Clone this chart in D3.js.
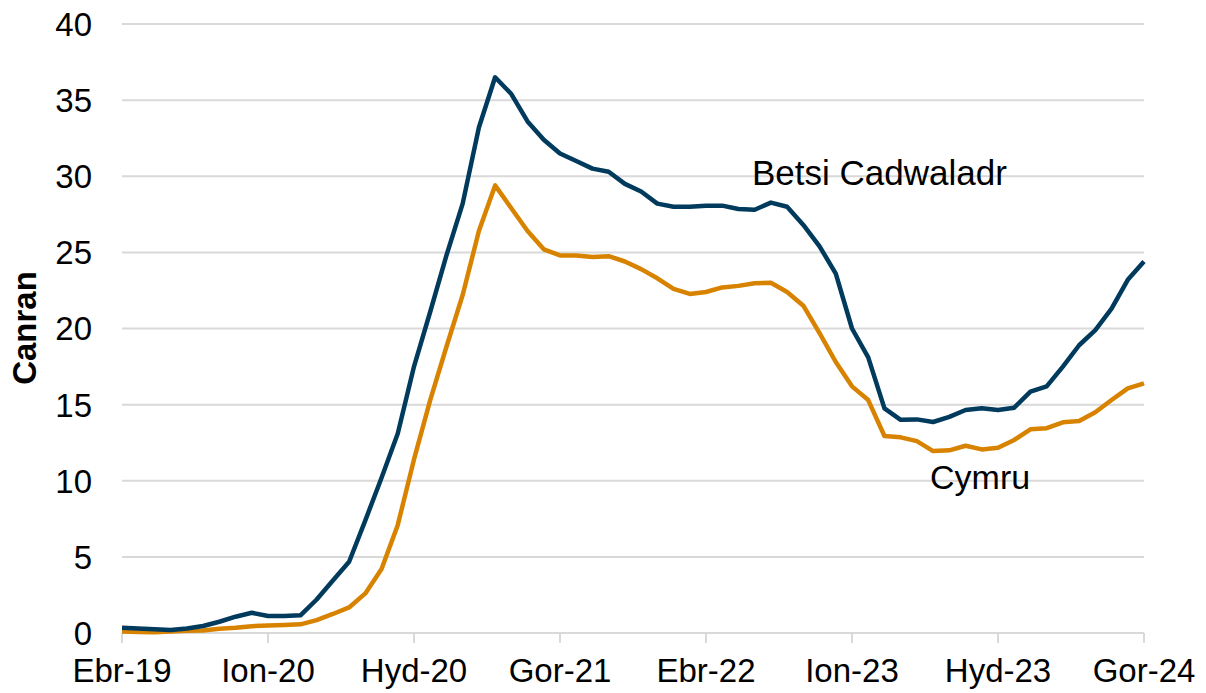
<!DOCTYPE html>
<html>
<head>
<meta charset="utf-8">
<script src="https://cdn.jsdelivr.net/npm/d3@7"></script>
<style>
  body { margin: 0; background: #fff; }
  text { font-family: "Liberation Sans", Arial, sans-serif; fill: #000; }
</style>
</head>
<body>
<svg id="chart" width="1206" height="693"></svg>
<script>
// Welsh month names, series runs Ebr-19 .. Gor-24
const monthNames = ["Ion", "Chw", "Maw", "Ebr", "Mai", "Meh", "Gor", "Aws", "Med", "Hyd", "Tach", "Rhag"];
const months = [];
for (let yr = 2019, m = 3; months.length < 64; m++) {
  if (m === 12) { m = 0; yr++; }
  months.push(monthNames[m] + "-" + String(yr).slice(2));
}

const tickLabels = ["Ebr-19", "Ion-20", "Hyd-20", "Gor-21", "Ebr-22", "Ion-23", "Hyd-23", "Gor-24"];
const yTicks = [0, 5, 10, 15, 20, 25, 30, 35, 40];

const betsi = [
  0.35, 0.3, 0.24, 0.2, 0.3, 0.46, 0.74, 1.07, 1.33, 1.12, 1.12, 1.16,
  2.2, 3.45, 4.68, 7.4, 10.2, 13.1, 17.5, 21.1, 24.8, 28.2, 33.2, 36.5,
  35.4, 33.6, 32.4, 31.5, 31.0, 30.5, 30.3, 29.5, 29.0, 28.2, 28.0, 28.0,
  28.07, 28.07, 27.85, 27.8, 28.27, 28.0, 26.8, 25.4, 23.6, 20.0, 18.1, 14.75,
  14.0, 14.03, 13.86, 14.2, 14.65, 14.76, 14.65, 14.8, 15.85, 16.2, 17.5, 18.9,
  19.9, 21.3, 23.2, 24.4
];
const cymru = [
  0.1, 0.07, 0.05, 0.1, 0.14, 0.17, 0.28, 0.35, 0.45, 0.5, 0.53, 0.57,
  0.85, 1.25, 1.68, 2.6, 4.2, 7.1, 11.4, 15.3, 18.8, 22.2, 26.4, 29.4,
  27.9, 26.4, 25.2, 24.8, 24.8, 24.7, 24.75, 24.4, 23.9, 23.3, 22.6, 22.27,
  22.4, 22.7, 22.8, 22.97, 23.0, 22.4, 21.5, 19.7, 17.8, 16.2, 15.3, 12.94,
  12.85, 12.6, 11.95, 12.0, 12.3, 12.06, 12.17, 12.68, 13.38, 13.45, 13.84, 13.92,
  14.5, 15.3, 16.07, 16.4
];

const svg = d3.select("#chart");
const plotLeft = 122, plotRight = 1144, plotTop = 24, plotBottom = 633;
const grid = "#d9d9d9";

const x = d3.scalePoint().domain(months).range([plotLeft, plotRight]);
const y = d3.scaleLinear().domain([0, 40]).range([plotBottom, plotTop]);

// gridlines
svg.append("g")
  .selectAll("line")
  .data(yTicks)
  .join("line")
  .attr("x1", plotLeft).attr("x2", plotRight)
  .attr("y1", d => y(d)).attr("y2", d => y(d))
  .attr("stroke", grid)
  .attr("stroke-width", 2);

// x axis ticks
svg.append("g")
  .selectAll("line")
  .data(tickLabels)
  .join("line")
  .attr("x1", d => x(d)).attr("x2", d => x(d))
  .attr("y1", plotBottom).attr("y2", plotBottom + 10)
  .attr("stroke", grid)
  .attr("stroke-width", 2);

svg.append("g")
  .selectAll("text")
  .data(tickLabels)
  .join("text")
  .attr("x", d => x(d))
  .attr("y", 682)
  .attr("text-anchor", "middle")
  .attr("font-size", 33)
  .text(d => d);

svg.append("g")
  .selectAll("text")
  .data(yTicks)
  .join("text")
  .attr("x", 92)
  .attr("y", d => y(d))
  .attr("dy", "0.36em")
  .attr("text-anchor", "end")
  .attr("font-size", 33)
  .text(d => d);

svg.append("text")
  .attr("transform", `translate(36, 328) rotate(-90)`)
  .attr("text-anchor", "middle")
  .attr("font-size", 33)
  .attr("font-weight", "bold")
  .text("Canran");

const line = d3.line()
  .x((d, i) => x(months[i]))
  .y(d => y(d));

svg.append("path")
  .datum(cymru)
  .attr("d", line)
  .attr("fill", "none")
  .attr("stroke", "#D88300")
  .attr("stroke-width", 4.5)
  .attr("stroke-linejoin", "round");

svg.append("path")
  .datum(betsi)
  .attr("d", line)
  .attr("fill", "none")
  .attr("stroke", "#003A5D")
  .attr("stroke-width", 4.5)
  .attr("stroke-linejoin", "round");

svg.append("text")
  .attr("x", 752).attr("y", 185)
  .attr("font-size", 35)
  .text("Betsi Cadwaladr");

svg.append("text")
  .attr("x", 930).attr("y", 489)
  .attr("font-size", 34)
  .text("Cymru");
</script>
</body>
</html>
